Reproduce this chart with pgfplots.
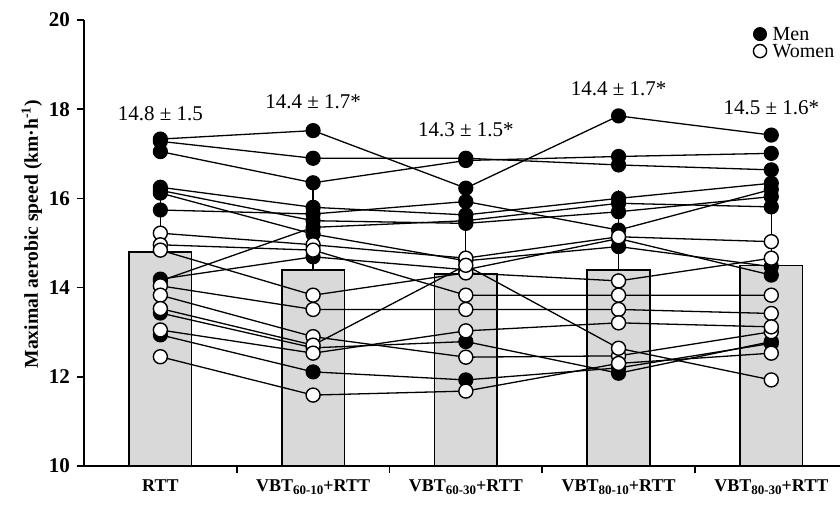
\documentclass[border=0pt]{standalone}
\usepackage{fontspec}
\setmainfont{Liberation Serif}
\usepackage{pgfplots}
\pgfplotsset{compat=1.18}
\usepackage{pgfplotstable}
\definecolor{barfill}{RGB}{217,217,217}

\pgfplotstableread{
x  M1    M2    M3    M4    M5    M6    M7    M8    M9    M10   M11   W1    W2    W3    W4    W5    W6    W7    W8
0  17.33 17.28 17.05 16.25 16.18 16.12 15.74 14.19 13.43 14.15 12.94 15.22 14.96 14.84 14.04 13.83 13.53 13.05 12.45
1  17.52 16.90 16.35 15.80 15.50 15.20 15.65 14.69 12.65 15.35 12.11 14.96 14.84 13.83 13.51 12.90 12.71 12.53 11.59
2  16.23 16.90 16.85 15.63 15.44 14.60 15.93 14.40 12.79 15.50 11.93 14.66 13.83 14.33 13.51 12.44 14.50 13.03 11.68
3  17.85 16.75 16.94 16.00 15.70 14.92 15.29 15.10 12.08 15.89 12.20 15.14 13.83 14.15 13.51 12.47 12.64 13.21 12.30
4  17.42 16.64 17.01 16.34 16.04 14.47 16.20 14.28 12.79 15.81 12.75 15.03 13.83 14.66 13.42 13.01 11.93 13.12 12.53
}\subj

\pgfplotstableread{
x m    e
0 14.8 1.5
1 14.4 1.7
2 14.3 1.5
3 14.4 1.7
4 14.5 1.6
}\means

\newcommand{\sub}[1]{\raisebox{-0.35ex}{\fontsize{6.5}{7}\selectfont #1}}

\begin{document}
\begin{tikzpicture}
\useasboundingbox (-42pt,-19pt) rectangle (378pt,233pt);
\begin{axis}[
  scale only axis, width=378pt, height=223pt,
  anchor=south west, at={(0,0)},
  xmin=-0.5, xmax=4.45, ymin=10, ymax=20,
  axis x line*=bottom, axis y line*=left,
  axis line style={-, line width=0.8pt},
  tick align=outside,
  major tick length=3.5pt,
  tick style={black, line width=0.8pt},
  ytick={10,12,14,16,18,20},
  yticklabel style={font=\bfseries\fontsize{10.5}{12}\selectfont},
  /pgf/number format/assume math mode=true,
  xtick={0.5,1.5,2.5,3.5}, xticklabels={},
  extra x ticks={0,1,2,3,4},
  extra x tick labels={RTT, VBT\sub{60-10}+RTT, VBT\sub{60-30}+RTT, VBT\sub{80-10}+RTT, VBT\sub{80-30}+RTT},
  extra x tick style={major tick length=0pt, xticklabel style={font=\bfseries\fontsize{9}{11}\selectfont, yshift=-3.5pt}},
  ylabel={Maximal aerobic speed (km·h\textsuperscript{-1})},
  ylabel style={font=\bfseries\fontsize{9.8}{11}\selectfont, at={(axis description cs:-0.069,0.52)}, anchor=center},
  legend style={draw=none, fill=none, at={(rel axis cs:0.993,0.985)}, anchor=north east,
    font=\fontsize{10}{10}\selectfont, inner sep=0pt, row sep=1.5pt,
    nodes={inner sep=0pt, text height=6.6pt, text depth=0.4pt},
    /tikz/every odd column/.style={column sep=3pt}},
  legend cell align=left,
  clip=false,
]
\addplot[ybar, bar width=0.41, fill=barfill, draw=black, line width=0.8pt, forget plot,
  error bars/.cd, y dir=plus, y explicit,
  error bar style={line width=0.6pt, black},
  error mark options={black, mark size=2pt, line width=0.6pt}]
  table[x=x, y=m, y error=e]{\means};

\pgfplotsinvokeforeach{M1,M2,M3,M4,M5,M6,M7,M8,M9,M10,M11,W1,W2,W3,W4,W5,W6,W7,W8}{
  \addplot[black, line width=0.65pt, no marks, forget plot] table[x=x, y=#1]{\subj};
}
\pgfplotsinvokeforeach{M1,M2,M3,M4,M5,M6,M7,M8,M9,M10,M11}{
  \addplot[only marks, mark=*, mark size=3.5pt, mark options={fill=black, draw=black, line width=0.6pt}, forget plot] table[x=x, y=#1]{\subj};
}
\pgfplotsinvokeforeach{W1,W2,W3,W4,W5,W6,W7,W8}{
  \addplot[only marks, mark=*, mark size=3.5pt, mark options={fill=white, draw=black, line width=0.7pt}, forget plot] table[x=x, y=#1]{\subj};
}

\addlegendimage{only marks, mark=*, mark size=3.3pt, mark options={fill=black, draw=black}}
\addlegendentry{Men}
\addlegendimage{only marks, mark=*, mark size=3.3pt, mark options={fill=white, draw=black, line width=0.7pt}}
\addlegendentry{Women}

\node[font=\fontsize{10.5}{12}\selectfont] at (axis cs:0,17.91) {14.8 ± 1.5};
\node[font=\fontsize{10.5}{12}\selectfont] at (axis cs:1,18.16) {14.4 ± 1.7*};
\node[font=\fontsize{10.5}{12}\selectfont] at (axis cs:2,17.53) {14.3 ± 1.5*};
\node[font=\fontsize{10.5}{12}\selectfont] at (axis cs:3,18.45) {14.4 ± 1.7*};
\node[font=\fontsize{10.5}{12}\selectfont] at (axis cs:4,18.03) {14.5 ± 1.6*};
\end{axis}
\end{tikzpicture}
\end{document}
